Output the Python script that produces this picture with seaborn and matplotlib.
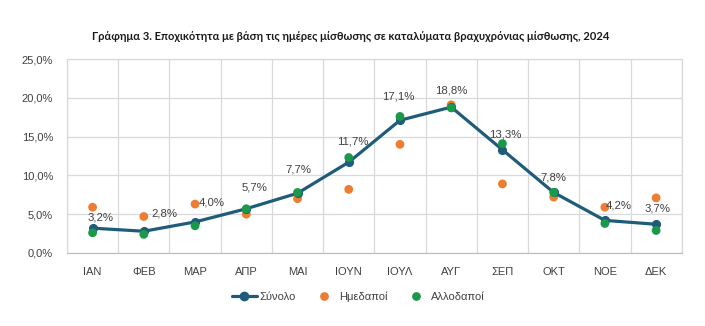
import matplotlib
matplotlib.use("Agg")
import matplotlib.pyplot as plt
import seaborn as sns
import pandas as pd
import numpy as np
from matplotlib.lines import Line2D

months = ["ΙΑΝ", "ΦΕΒ", "ΜΑΡ", "ΑΠΡ", "ΜΑΙ", "ΙΟΥΝ", "ΙΟΥΛ", "ΑΥΓ", "ΣΕΠ", "ΟΚΤ", "ΝΟΕ", "ΔΕΚ"]
total = [3.2, 2.8, 4.0, 5.7, 7.7, 11.7, 17.1, 18.8, 13.3, 7.8, 4.2, 3.7]
domestic = [5.9, 4.7, 6.3, 5.0, 7.0, 8.2, 14.0, 19.1, 8.9, 7.2, 5.9, 7.1]
foreign = [2.6, 2.4, 3.5, 5.7, 7.8, 12.3, 17.6, 18.7, 14.1, 7.8, 3.8, 2.9]
yticks = [0, 5, 10, 15, 20, 25]

df = pd.DataFrame({"x": np.arange(len(months)), "month": months,
                   "total": total, "dom": domestic, "for": foreign})

sns.set_style("white")
plt.rcParams["font.family"] = ["Liberation Sans", "DejaVu Sans"]

fig = plt.figure(figsize=(7.05, 3.26), dpi=100)
ax = fig.add_axes([0.095, 0.224, 0.872, 0.595])

c_line = "#1F5C7A"
c_dom = "#ED7D31"
c_for = "#1A9A48"

sns.scatterplot(data=df, x="x", y="dom", color=c_dom, s=40, edgecolor="none",
                ax=ax, zorder=3, legend=False)
sns.lineplot(data=df, x="x", y="total", color=c_line, linewidth=2.3, marker="o",
             markersize=5.8, markeredgecolor=c_line, ax=ax, zorder=4, legend=False)
sns.scatterplot(data=df, x="x", y="for", color=c_for, s=40, edgecolor="none",
                ax=ax, zorder=5, legend=False)

# data labels (offsets in points)
offsets = [(6, 8), (15, 13), (12, 14), (6, 15), (1, 17), (3, 15), (-1, 17), (0, 12),
           (2, 11), (0, 11), (10, 11), (1, 11)]
for i, v in enumerate(total):
    dx, dy = offsets[i]
    ax.annotate(f"{v:.1f}%".replace(".", ","), (i, v), xytext=(dx, dy),
                textcoords="offset points", ha="center", va="center",
                fontsize=8.2, color="#404040", zorder=6)

ax.set_xlim(-0.5, len(months) - 0.5)
ax.set_ylim(0, 25)
ax.set_xticks(range(len(months)))
ax.set_xticklabels(months)
ax.set_xticks(np.arange(-0.5, len(months), 1), minor=True)
ax.set_yticks(yticks)
ax.set_yticklabels([f"{t:.1f}%".replace(".", ",") for t in yticks])
ax.tick_params(axis="both", which="both", length=0, labelsize=8, colors="#404040")
ax.tick_params(axis="x", pad=10)
ax.tick_params(axis="y", pad=10)
ax.grid(False)
ax.grid(True, which="minor", axis="x", color="#D9D9D9", linewidth=0.9)
ax.grid(True, which="major", axis="y", color="#D9D9D9", linewidth=0.9)
ax.set_axisbelow(True)
for s in ["top", "right", "left"]:
    ax.spines[s].set_color("#D9D9D9")
    ax.spines[s].set_linewidth(0.9)
ax.spines["bottom"].set_color("#BFBFBF")
ax.spines["bottom"].set_linewidth(0.9)
ax.set_xlabel("")
ax.set_ylabel("")

fig.text(0.497, 0.887, "Γράφημα 3. Εποχικότητα με βάση τις ημέρες μίσθωσης σε καταλύματα βραχυχρόνιας μίσθωσης, 2024",
         ha="center", va="center", fontsize=8, fontweight="bold", family=["Lato", "DejaVu Sans"],
         color="#1a1a1a")

handles = [
    Line2D([0], [0], color=c_line, linewidth=2.3, marker="o", markersize=6),
    Line2D([0], [0], color="none", marker="o", markersize=6.3, markerfacecolor=c_dom, markeredgecolor="none"),
    Line2D([0], [0], color="none", marker="o", markersize=6.3, markerfacecolor=c_for, markeredgecolor="none"),
]
fig.legend(handles, ["Σύνολο", "Ημεδαποί", "Αλλοδαποί"], loc="center",
           bbox_to_anchor=(0.508, 0.09), ncol=3, frameon=False, fontsize=8,
           handlelength=2.3, columnspacing=1.4, handletextpad=0.2,
           labelcolor="#404040")

fig.savefig("out.png", dpi=100)
